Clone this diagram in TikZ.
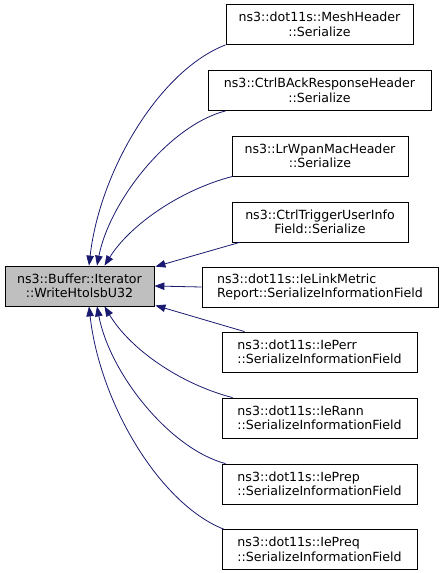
\documentclass[tikz,border=0pt]{standalone}
\usepackage{fontspec}
\usepackage{tikz}
\usetikzlibrary{arrows.meta}

\newfontfamily\doxfont{DejaVu Sans}
\definecolor{edgeblue}{RGB}{25,25,112}
\definecolor{maingray}{RGB}{191,191,191}

\tikzset{
  fnbox/.style={rectangle, draw=black, line width=0.8pt, minimum height=40pt,
    inner sep=2pt, font=\doxfont\fontsize{12.6}{14.5}\selectfont},
  callee/.style={fnbox, align=center},
  calleel/.style={fnbox, align=left},
  calledge/.style={draw=edgeblue, line width=0.8pt,
    -{Triangle[length=10pt,width=7.5pt,fill=edgeblue]}}
}

\begin{document}
\begin{tikzpicture}[x=1pt,y=-1pt]

		\useasboundingbox (0,0) rectangle (443,573);

		\node[callee, fill=maingray, minimum width=149pt]
		(writeHtolsb) at (79.5,286) {ns3::Buffer::Iterator\\::WriteHtolsbU32};

		\node[callee, minimum width=187pt]
		(meshHeader) at (319.5,24.5) {ns3::dot11s::MeshHeader\\::Serialize};

		\node[callee, minimum width=223pt]
		(ctrlBAck) at (319.5,90.5) {ns3::CtrlBAckResponseHeader\\::Serialize};

		\node[callee, minimum width=176pt]
		(lrWpan) at (320,156) {ns3::LrWpanMacHeader\\::Serialize};

		\node[callee, minimum width=176pt]
		(ctrlTrigger) at (320,222) {ns3::CtrlTriggerUserInfo\\Field::Serialize};

		\node[calleel, minimum width=236pt]
		(ieLinkMetric) at (320,287) {ns3::dot11s::IeLinkMetric\\Report::SerializeInformationField};

		\node[calleel, minimum width=195pt]
		(iePerr) at (319.5,352) {ns3::dot11s::IePerr\\::SerializeInformationField};

		\node[calleel, minimum width=195pt]
		(ieRann) at (319.5,418) {ns3::dot11s::IeRann\\::SerializeInformationField};

		\node[calleel, minimum width=195pt]
		(iePrep) at (319.5,484) {ns3::dot11s::IePrep\\::SerializeInformationField};

		\node[calleel, minimum width=195pt]
		(iePreq) at (319.5,549.5) {ns3::dot11s::IePreq\\::SerializeInformationField};

		% Edges above
		\draw[calledge] (meshHeader.south west) .. controls (160,70) and (100,170) .. ([xshift=9.5]writeHtolsb.north);
		\draw[calledge] ([xshift=18]ctrlBAck.south west) .. controls (170,125) and (110,200) .. ([xshift=17.5]writeHtolsb.north);
		\draw[calledge] ([xshift=1]lrWpan.south west) .. controls (180,190) and (130,225) .. ([xshift=25]writeHtolsb.north);
		\draw[calledge] ([xshift=8]ctrlTrigger.south west) -- ([xshift=1,yshift=-1]writeHtolsb.north east);

		% Edge in the middle
		\draw[calledge] (ieLinkMetric.west) -- (writeHtolsb.east);

		% Edges below
		\draw[calledge] ([xshift=23]iePerr.north west) -- ([xshift=1,yshift=1]writeHtolsb.south east);
		\draw[calledge] ([xshift=11]ieRann.north west) .. controls (180,384) and (130,349) .. ([xshift=25]writeHtolsb.south);
		\draw[calledge] ([xshift=4]iePrep.north west) .. controls (170,449) and (110,374) .. ([xshift=17.5]writeHtolsb.south);
		\draw[calledge] ([xshift=2]iePreq.north west) .. controls (160,504) and (100,404) .. ([xshift=9.5]writeHtolsb.south);

\end{tikzpicture}
\end{document}
